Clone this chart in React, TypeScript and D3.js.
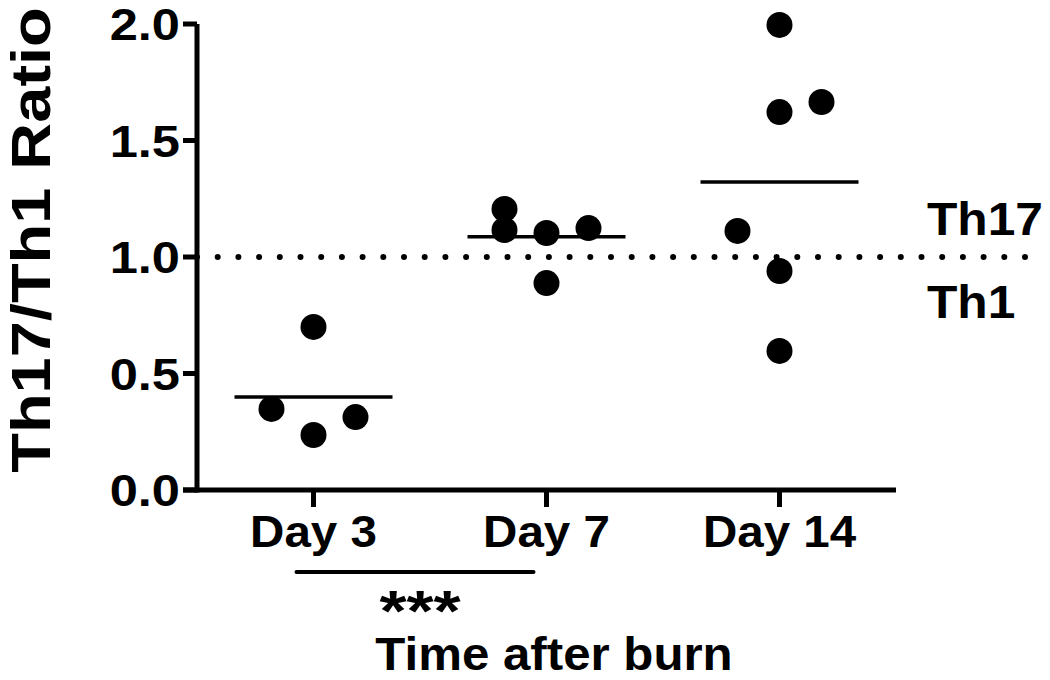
import React from "react";
import * as d3 from "d3";

const days = ["Day 3", "Day 7", "Day 14"];
const day3Values = [0.70, 0.348, 0.236, 0.313];
const day3Cols = [0, -1, 0, 1];
const day7Values = [1.206, 1.116, 1.103, 1.124, 0.888];
const day7Cols = [-1, -1, 0, 1, 0];
const day14Values = [1.996, 1.622, 1.665, 1.112, 0.94, 0.597];
const day14Cols = [0, 0, 1, -1, 0, 0];
const yTicks = [0, 0.5, 1.0, 1.5, 2.0];
const yTitle = "Th17/Th1 Ratio";
const xTitle = "Time after burn";
const refValue = 1.0;
const refAbove = "Th17";
const refBelow = "Th1";
const sigPair = ["Day 3", "Day 7"];
const sigLabel = "***";

const groups = [
  { day: days[0], values: day3Values, cols: day3Cols },
  { day: days[1], values: day7Values, cols: day7Cols },
  { day: days[2], values: day14Values, cols: day14Cols },
];

const W = 1050;
const H = 680;
const FONT = "'Liberation Sans', Arial, Helvetica, sans-serif";

export default function App() {
  const x = d3.scaleBand<string>().domain(days).range([197, 896]).padding(0);
  const y = d3.scaleLinear().domain([0, 2]).range([490, 24]);
  const cx = (d: string) => (x(d) as number) + x.bandwidth() / 2;
  const spread = 42;
  const meanHalf = 79;
  const r = 13;
  const fmt = d3.format(".1f");
  const x0 = 197;
  const y0 = y(0);

  return (
    <svg
      width={W}
      height={H}
      style={{ position: "absolute", left: 0, top: 0, background: "#fff" }}
      fontFamily={FONT}
      fontWeight="bold"
    >
      <rect width={W} height={H} fill="#fff" />
      {/* reference dotted line */}
      <line
        x1={x0}
        x2={1040}
        y1={y(refValue)}
        y2={y(refValue)}
        stroke="#000"
        strokeWidth={6}
        strokeLinecap="round"
        strokeDasharray="0 20.7"
      />
      {/* axes */}
      <line x1={x0} x2={x0} y1={y(2)} y2={y0 + 2.5} stroke="#000" strokeWidth={5} />
      <line x1={x0 - 14} x2={896} y1={y0} y2={y0} stroke="#000" strokeWidth={5} />
      {yTicks.map((t) => (
        <g key={"yt" + t}>
          <line x1={x0 - 14} x2={x0} y1={y(t)} y2={y(t)} stroke="#000" strokeWidth={5} />
          <text
            transform={`translate(180,${y(t) + 16}) scale(1.15,1)`}
            textAnchor="end"
            fontSize={44}
            fill="#000"
          >
            {fmt(t)}
          </text>
        </g>
      ))}
      {days.map((d) => (
        <g key={"xt" + d}>
          <line x1={cx(d)} x2={cx(d)} y1={y0} y2={y0 + 17} stroke="#000" strokeWidth={5} />
          <text
            transform={`translate(${cx(d)},547) scale(1.08,1)`}
            textAnchor="middle"
            fontSize={44}
            fill="#000"
          >
            {d}
          </text>
        </g>
      ))}
      {/* y title */}
      <text
        transform={`translate(50,240) rotate(-90) scale(1.16,1)`}
        textAnchor="middle"
        fontSize={56}
        fill="#000"
      >
        {yTitle}
      </text>
      {/* x title */}
      <text
        transform={`translate(554,670) scale(1.07,1)`}
        textAnchor="middle"
        fontSize={46}
        fill="#000"
      >
        {xTitle}
      </text>
      {/* means */}
      {groups.map((g) => {
        const m = d3.mean(g.values) as number;
        return (
          <line
            key={"m" + g.day}
            x1={cx(g.day) - meanHalf}
            x2={cx(g.day) + meanHalf}
            y1={y(m)}
            y2={y(m)}
            stroke="#000"
            strokeWidth={3.5}
          />
        );
      })}
      {/* points */}
      {groups.map((g) =>
        g.values.map((v, i) => (
          <circle
            key={g.day + i}
            cx={cx(g.day) + g.cols[i] * spread}
            cy={y(v)}
            r={r}
            fill="#000"
          />
        ))
      )}
      {/* reference labels */}
      <text transform={`translate(927,235) scale(1.08,1)`} fontSize={46} fill="#000">
        {refAbove}
      </text>
      <text transform={`translate(927,318) scale(1.08,1)`} fontSize={46} fill="#000">
        {refBelow}
      </text>
      {/* significance */}
      <line
        x1={cx(sigPair[0]) - 17}
        x2={cx(sigPair[1]) - 13}
        y1={572}
        y2={572}
        stroke="#000"
        strokeWidth={4}
        strokeLinecap="round"
      />
      <text
        transform={`translate(420,631) scale(1.2,1)`}
        textAnchor="middle"
        fontSize={58}
        fill="#000"
      >
        {sigLabel}
      </text>
    </svg>
  );
}
